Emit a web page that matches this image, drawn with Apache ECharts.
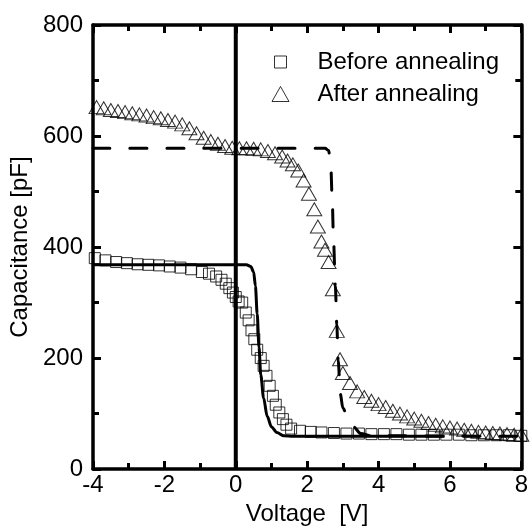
<!DOCTYPE html>
<html>
<head>
<meta charset="utf-8">
<script src="https://cdn.jsdelivr.net/npm/echarts@6/dist/echarts.min.js"></script>
<style>html,body{margin:0;padding:0;background:#fff}#c{width:531px;height:531px}</style>
</head>
<body>
<div id="c"></div>
<script>
// Before annealing (squares)
const beforeV = [-3.95,-3.65,-3.35,-3.05,-2.75,-2.45,-2.15,-1.85,-1.55,-1.25,-0.95,-0.75,-0.55,-0.4,-0.28,-0.18,-0.08,0.0,0.08,0.18,0.28,0.36,0.44,0.52,0.6,0.7,0.78,0.86,0.95,1.04,1.12,1.22,1.32,1.42,1.55,1.8,2.1,2.4,2.75,3.1,3.45,3.8,4.15,4.5,4.85,5.2,5.55,5.9,6.25,6.6,6.95,7.3,7.65,8.0];
const beforeC = [380,376,373,371,369,368,367,365,363,360,355,352,347,341,334,326,318,310,302,300,282,268,250,234,215,200,186,168,150,132,116,102,90,80,73,69,67,66,65,64,64,63,63,63,62,62,62,62,62,61,61,61,61,60];
// After annealing (triangles)
const afterV = [-3.9,-3.7,-3.5,-3.3,-3.1,-2.9,-2.7,-2.5,-2.3,-2.1,-1.9,-1.7,-1.5,-1.3,-1.1,-0.9,-0.7,-0.5,-0.3,-0.1,0.1,0.3,0.5,0.7,0.9,1.1,1.3,1.45,1.6,1.75,1.9,2.05,2.2,2.3,2.4,2.5,2.6,2.72,2.83,2.92,3.0,3.2,3.4,3.6,3.8,4.0,4.2,4.4,4.6,4.8,5.0,5.2,5.4,5.6,5.8,6.0,6.2,6.4,6.6,6.8,7.0,7.2,7.4,7.6,7.8,8.0];
const afterC = [652,650,647,645,643,641,639,637,634,632,629,626,621,614,605,597,591,586,582,579,578,578,577,576,573,569,563,556,549,538,520,496,468,437,410,395,373,324,249,198,173,155,140,130,123,117,112,105,100,95,91,87,83,80,77,75,73,71,69,67,66,65,64,63,62,62];
// Fit before annealing (solid line)
const fitBeforeV = [-4,0.3,0.42,0.5,0.55,0.6,0.65,0.7,0.78,0.88,1.0,1.15,1.35,1.6,3.0,5.85];
const fitBeforeC = [368,368,365,355,330,280,220,170,128,95,76,66,60,59,59,59];
// Fit after annealing (dashed line)
const fitAfterV = [-4,2.5,2.6,2.66,2.7,2.74,2.79,2.83,2.87,2.93,3.0,3.15,3.3,3.5,3.8,8];
const fitAfterC = [578,578,574,550,490,410,330,260,195,135,110,90,76,64,60,59];
// Vertical reference line at V = 0
const zeroLineV = [0, 0];
const zeroLineC = [0, 800];
// Axis ticks
const xTicks = {min: -4, max: 8, step: 2};
const yTicks = {min: 0, max: 800, step: 200};
const legendNames = ['Before annealing', 'After annealing'];

const zip = (a, b) => a.map((v, i) => [v, b[i]]);
const FONT = 'Liberation Sans';
const FS = 24;

const chart = echarts.init(document.getElementById('c'), null, {renderer: 'canvas'});

const axisCommon = {
  axisLine: {show: true, onZero: false, lineStyle: {color: '#000', width: 3.5}},
  axisTick: {show: true, inside: true, length: 8, lineStyle: {color: '#000', width: 3}},
  minorTick: {show: true, splitNumber: 2, length: 6, lineStyle: {color: '#000', width: 3}},
  splitLine: {show: false},
  minorSplitLine: {show: false}
};

const hollow = {color: 'rgba(0,0,0,0)', borderColor: '#000', borderWidth: 1};

chart.setOption({
  animation: false,
  backgroundColor: '#fff',
  textStyle: {fontFamily: FONT},
  grid: {left: 93, right: 8, top: 25, bottom: 61, containLabel: false},
  legend: [
    {
      orient: 'vertical', left: 274, top: 50, itemWidth: 12, itemHeight: 12, padding: 0,
      data: [{name: legendNames[0], icon: 'rect', itemStyle: hollow}],
      textStyle: {fontFamily: FONT, fontSize: FS, color: '#000', padding: [0, 0, 0, 26]}
    },
    {
      orient: 'vertical', left: 271.5, top: 82, itemWidth: 17, itemHeight: 15, padding: 0,
      data: [{name: legendNames[1], icon: 'triangle', itemStyle: hollow}],
      textStyle: {fontFamily: FONT, fontSize: FS, color: '#000', padding: [0, 0, 0, 23.5]}
    }
  ],
  xAxis: [
    Object.assign({}, axisCommon, {
      type: 'value', position: 'bottom', min: xTicks.min, max: xTicks.max, interval: xTicks.step,
      name: 'Voltage  [V]', nameLocation: 'middle', nameGap: 29,
      nameTextStyle: {fontFamily: FONT, fontSize: FS, color: '#000'},
      axisLabel: {fontFamily: FONT, fontSize: FS, color: '#000', margin: 4}
    }),
    Object.assign({}, axisCommon, {
      type: 'value', position: 'top', min: xTicks.min, max: xTicks.max, interval: xTicks.step,
      axisLabel: {show: false}
    })
  ],
  yAxis: [
    Object.assign({}, axisCommon, {
      type: 'value', position: 'left', min: yTicks.min, max: yTicks.max, interval: yTicks.step,
      name: 'Capacitance [pF]', nameLocation: 'middle', nameGap: 58,
      nameTextStyle: {fontFamily: FONT, fontSize: FS, color: '#000'},
      axisLabel: {fontFamily: FONT, fontSize: FS, color: '#000', margin: 10}
    }),
    Object.assign({}, axisCommon, {
      type: 'value', position: 'right', min: yTicks.min, max: yTicks.max, interval: yTicks.step,
      axisLabel: {show: false}
    })
  ],
  series: [
    {
      name: 'zeroLine', type: 'line', data: zip(zeroLineV, zeroLineC), showSymbol: false, symbol: 'none',
      lineStyle: {color: '#000', width: 4, type: 'solid'}, z: 2, silent: true
    },
    {
      name: 'fitAfter', type: 'line', data: zip(fitAfterV, fitAfterC), showSymbol: false, symbol: 'none',
      smooth: 0.3, smoothMonotone: 'x',
      lineStyle: {color: '#000', width: 3, type: [17, 20], cap: 'round'}, z: 3
    },
    {
      name: 'fitBefore', type: 'line', data: zip(fitBeforeV, fitBeforeC), showSymbol: false, symbol: 'none',
      smooth: 0.3, smoothMonotone: 'x',
      lineStyle: {color: '#000', width: 3, type: 'solid'}, z: 3
    },
    {
      name: legendNames[0], type: 'scatter', data: zip(beforeV, beforeC), symbol: 'rect', symbolSize: 11,
      itemStyle: hollow, z: 4
    },
    {
      name: legendNames[1], type: 'scatter', data: zip(afterV, afterC), symbol: 'triangle', symbolSize: [15, 13],
      itemStyle: hollow, z: 4
    }
  ]
});
</script>
</body>
</html>
